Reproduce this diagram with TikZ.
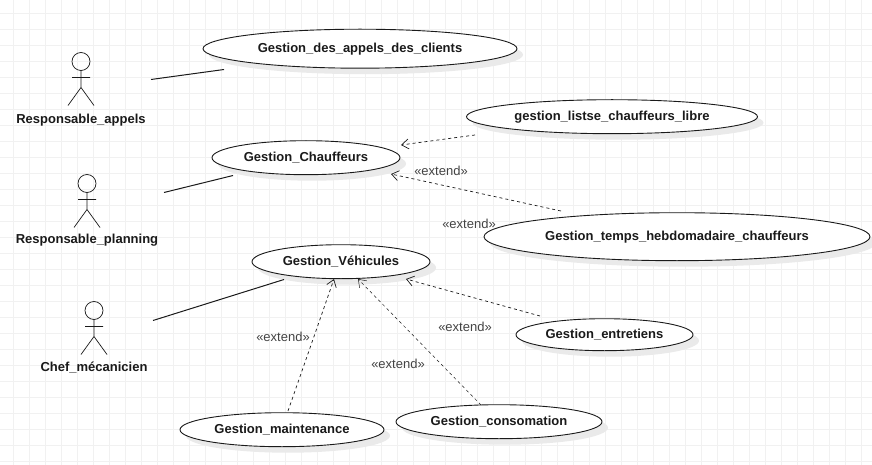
\documentclass[tikz,border=0pt]{standalone}
\usepackage{fontspec}
\setmainfont{Liberation Sans}
\usetikzlibrary{arrows.meta,shadows,shapes.geometric}
\definecolor{GridLine}{HTML}{F1F1F1}
\definecolor{Ink}{HTML}{1A1A1A}
\definecolor{Muted}{HTML}{444444}
\definecolor{Shade}{HTML}{EAEAEA}

\begin{document}
\begin{tikzpicture}[
  x=1pt,y=-1pt,
  usecase/.style={ellipse,draw=Ink,fill=white,line width=0.9pt,inner sep=0pt,font=\fontsize{13}{15}\selectfont\bfseries,text=Ink,general shadow={fill=Shade,shadow xshift=6pt,shadow yshift=-6pt}},
  actorname/.style={font=\fontsize{13}{15}\selectfont\bfseries,text=Ink},
  stereo/.style={font=\fontsize{13}{15}\selectfont,text=Muted},
  assoc/.style={draw=Ink,line width=1pt},
  ext/.style={-{Straight Barb[length=7pt,width=10pt]},draw=Ink,line width=0.7pt,dash pattern=on 3pt off 3pt},
  actor/.pic={
    \draw[draw=Ink,line width=0.7pt] (0,-18) circle (9);
    \draw[draw=Ink,line width=0.7pt] (0,-9) -- (0,8) (-9,-2) -- (9,-2) (-13,26) -- (0,8) -- (13,26);
  }
]
\useasboundingbox (0,0) rectangle (872,465);
\fill[white] (0,0) rectangle (872,465);
\foreach \gx in {13,29,...,872} \draw[GridLine,line width=0.8pt] (\gx,0) -- (\gx,465);
\foreach \gy in {13,29,...,465} \draw[GridLine,line width=0.8pt] (0,\gy) -- (872,\gy);

% use cases
\node[usecase,minimum width=314pt,minimum height=39pt] (appels) at (360,48.7) {Gestion\_des\_appels\_des\_clients};
\node[usecase,minimum width=291pt,minimum height=34pt] (libre) at (612,116.7) {gestion\_listse\_chauffeurs\_libre};
\node[usecase,minimum width=188pt,minimum height=34pt] (chauff) at (306,157.7) {Gestion\_Chauffeurs};
\node[usecase,minimum width=386pt,minimum height=48pt] (temps) at (677,236.7) {Gestion\_temps\_hebdomadaire\_chauffeurs};
\node[usecase,minimum width=178pt,minimum height=34pt] (vehic) at (341,261.7) {Gestion\_Véhicules};
\node[usecase,minimum width=177pt,minimum height=32pt] (entret) at (604.5,334.7) {Gestion\_entretiens};
\node[usecase,minimum width=206pt,minimum height=34pt] (conso) at (499,421.7) {Gestion\_consomation};
\node[usecase,minimum width=204pt,minimum height=34pt] (maint) at (282,429.7) {Gestion\_maintenance};

% actors
\pic at (81,79.5) {actor};
\pic at (87,201.5) {actor};
\pic at (94,328.5) {actor};
\node[actorname] (respA) at (81,120) {Responsable\_appels};
\node[actorname] (respP) at (87,240) {Responsable\_planning};
\node[actorname] (chef) at (94,368) {Chef\_mécanicien};

% free line ends
\coordinate (a1) at (151,79.5);
\coordinate (a2) at (224,69.5);
\coordinate (b1) at (164,192.5);
\coordinate (b2) at (233,175.5);
\coordinate (c1) at (153,320.5);
\coordinate (c2) at (284,279.5);
\coordinate (d1) at (475,135);
\coordinate (d2) at (401,145);
\coordinate (e1) at (561,211);
\coordinate (e2) at (391,174);
\coordinate (f1) at (540,316);
\coordinate (f2) at (406,279);
\coordinate (g1) at (481,405);
\coordinate (g2) at (358,279);
\coordinate (h1) at (288,411);
\coordinate (h2) at (334,279);

\draw[assoc] (a1) -- (a2);
\draw[assoc] (b1) -- (b2);
\draw[assoc] (c1) -- (c2);
\draw[ext] (d1) -- (d2);
\draw[ext] (e1) -- (e2);
\draw[ext] (f1) -- (f2);
\draw[ext,line width=0.5pt] (g1) -- (g2);
\draw[ext] (h1) -- (h2);

% stereotypes
\node[stereo] (ext1) at (441,170.5) {«extend»};
\node[stereo] (ext2) at (469,223.5) {«extend»};
\node[stereo] (ext3) at (465,326.5) {«extend»};
\node[stereo] (ext4) at (398,363.5) {«extend»};
\node[stereo] (ext5) at (283,336.5) {«extend»};
\end{tikzpicture}
\end{document}
